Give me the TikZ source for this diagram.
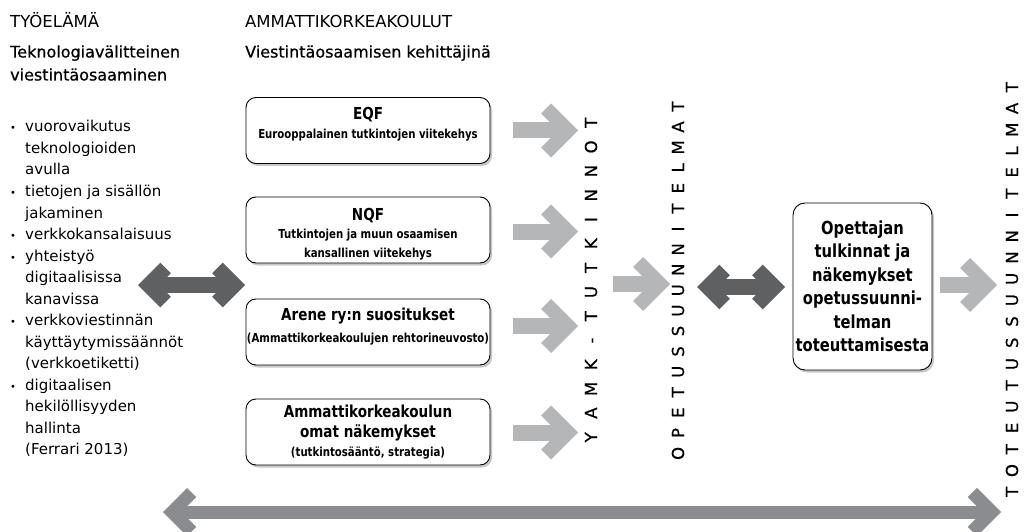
\documentclass[tikz,border=0pt]{standalone}
\usepackage{fontspec}
\setmainfont{DejaVu Sans}
\newfontfamily\medf[FakeBold=0.7]{DejaVu Sans}
\newfontfamily\boxf[FakeStretch=0.82]{DejaVu Sans}
\usetikzlibrary{calc,shadows}
\definecolor{lightarr}{HTML}{B5B6B8}
\definecolor{darkarr}{HTML}{5F6062}
\definecolor{midarr}{HTML}{8B8C8F}
\newlength\sletw
\newcommand\splet[1]{\ifx#1\relax\else\makebox[\sletw][c]{#1}\expandafter\splet\fi}
% chevron head: colour, tip coordinate, direction (1 right, -1 left), arm width, arm reach
\newcommand\chev[5]{%
  \draw[draw=#1, line width=#4pt, line join=miter, miter limit=10, line cap=butt]
    ($(#2)+({-(#3)*(0.707*#4+#5)},{-#5})$) -- ($(#2)+({-(#3)*0.707*#4},0)$) -- ($(#2)+({-(#3)*(0.707*#4+#5)},{#5})$);}
% single block arrow: colour, start, tip, shaft width, arm width, arm reach
\newcommand\larrow[6]{%
  \draw[draw=#1, line width=#4pt, line cap=butt] (#2) -- ($(#3)+({-0.707*#5},0)$);
  \chev{#1}{#3}{1}{#5}{#6}}
% double block arrow: colour, left tip, right tip, shaft width, arm width, arm reach
\newcommand\darrow[6]{%
  \draw[draw=#1, line width=#4pt, line cap=butt] ($(#2)+({0.707*#5},0)$) -- ($(#3)+({-0.707*#5},0)$);
  \chev{#1}{#2}{-1}{#5}{#6}
  \chev{#1}{#3}{1}{#5}{#6}}
\begin{document}
\begin{tikzpicture}[x=1pt,y=-1pt,
  box/.style={draw=black, line width=0.9pt, rounded corners=10pt, fill=white, inner sep=0pt,
     drop shadow={shadow xshift=2pt, shadow yshift=-2.5pt, opacity=0.22, fill=black}},
  srcbox/.style={box, minimum width=244pt, minimum height=66pt},
  boxtitle/.style={anchor=base, inner sep=0pt, font=\boxf\bfseries\fontsize{16.5}{20}\selectfont},
  boxsub/.style={anchor=base, inner sep=0pt, font=\boxf\bfseries\fontsize{12.4}{19}\selectfont},
  head/.style={anchor=base west, inner sep=0pt, font=\fontsize{16.5}{20}\selectfont},
  subhead/.style={anchor=base west, inner sep=0pt, font=\medf\fontsize{16}{22}\selectfont},
  bul/.style={anchor=base west, inner sep=0pt, font=\fontsize{15}{21.5}\selectfont},
  dot/.style={anchor=base, inner sep=0pt, font=\fontsize{10}{10}\selectfont},
  vlab/.style={rotate=90, inner sep=0pt, font=\medf\fontsize{16.5}{17}\selectfont},
]
\useasboundingbox (0,0) rectangle (1031,532);

% headings
\node[head] (tyo) at (10,28) {TYÖELÄMÄ};
\node[head] (amk) at (245,28) {AMMATTIKORKEAKOULUT};
\node[subhead] (tek1) at (10,57.5) {Teknologiavälitteinen};
\node[subhead] (tek2) at (10,80.5) {viestintäosaaminen};
\node[subhead] (vie) at (245,57.5) {Viestintäosaamisen kehittäjinä};

% bullet list
\foreach \i/\b/\t in {0/1/vuorovaikutus, 1/0/teknologioiden, 2/0/avulla, 3/1/tietojen ja sisällön, 4/0/jakaminen, 5/1/verkkokansalaisuus, 6/1/yhteistyö, 7/0/digitaalisissa, 8/0/kanavissa, 9/1/verkkoviestinnän, 10/0/käyttäytymissäännöt, 11/0/(verkkoetiketti), 12/1/digitaalisen, 13/0/hekilöllisyyden, 14/0/hallinta, 15/0/(Ferrari 2013)}{
  \node[bul] (l\i) at (25,{132+21.5*\i}) {\t};
  \ifnum\b=1 \node[dot] (bu\i) at (13,{132+21.5*\i}) {•};\fi
}

% source boxes
\node[srcbox] (eqf) at (368,130.5) {};
\node[boxtitle] (eqfT) at ($(eqf.center)+(0,-10.5)$) {EQF};
\node[boxsub] (eqfS) at ($(eqf.center)+(0,8.5)$) {Eurooppalainen tutkintojen viitekehys};

\node[srcbox] (nqf) at (368,230) {};
\node[boxtitle] (nqfT) at ($(nqf.center)+(0,-10)$) {NQF};
\node[boxsub] (nqfS1) at ($(nqf.center)+(0,8)$) {Tutkintojen ja muun osaamisen};
\node[boxsub] (nqfS2) at ($(nqf.center)+(0,27)$) {kansallinen viitekehys};

\node[srcbox] (arene) at (368,332) {};
\node[boxtitle] (areneT) at ($(arene.center)+(0,-12)$) {Arene ry:n suositukset};
\node[boxsub] (areneS) at ($(arene.center)+(0,10)$) {(Ammattikorkeakoulujen rehtorineuvosto)};

\node[srcbox] (oma) at (368,432) {};
\node[boxtitle] (omaT1) at ($(oma.center)+(0,-15)$) {Ammattikorkeakoulun};
\node[boxtitle] (omaT2) at ($(oma.center)+(0,5)$) {omat näkemykset};
\node[boxsub] (omaS) at ($(oma.center)+(0,24)$) {(tutkintosääntö, strategia)};

% teacher box
\node[box, rounded corners=12pt, minimum width=139pt, minimum height=167pt, align=center,
  font=\boxf\bfseries\fontsize{18}{23.5}\selectfont] (opet) at (862.5,286.5)
  {Opettajan\\tulkinnat ja\\näkemykset\\opetussuunni-\\telman\\toteuttamisesta};

% vertical labels
\node[vlab] (yamk) at (591,280) {\setlength\sletw{24.2pt}\splet YAMK-TUTKINNOT\relax};
\node[vlab] (ops) at (678,280) {\setlength\sletw{20.4pt}\splet OPETUSSUUNNITELMAT\relax};
\node[vlab] (tots) at (1012,289.5) {\setlength\sletw{21.3pt}\splet TOTEUTUSSUUNNITELMAT\relax};

% arrow end points
\coordinate (a1s) at (513,130.5); \coordinate (a1t) at (578,130.5);
\coordinate (a2s) at (513,231.5); \coordinate (a2t) at (578,231.5);
\coordinate (a3s) at (513,326);   \coordinate (a3t) at (578,326);
\coordinate (a4s) at (513,432.5); \coordinate (a4t) at (578,432.5);
\coordinate (a5s) at (613,284);   \coordinate (a5t) at (670,284);
\coordinate (a6s) at (940,285);   \coordinate (a6t) at (997,285);
\coordinate (d1l) at (138,285);   \coordinate (d1r) at (245,285);
\coordinate (d2l) at (697,287);   \coordinate (d2r) at (785,287);
\coordinate (bl) at (163,512);    \coordinate (br) at (1001,512);

\larrow{lightarr}{a1s}{a1t}{16}{14}{22}
\larrow{lightarr}{a2s}{a2t}{16}{14}{22}
\larrow{lightarr}{a3s}{a3t}{16}{14}{22}
\larrow{lightarr}{a4s}{a4t}{16}{14}{22}
\larrow{lightarr}{a5s}{a5t}{16}{14}{22}
\larrow{lightarr}{a6s}{a6t}{16}{14}{22}
\darrow{darkarr}{d1l}{d1r}{16}{15}{17}
\darrow{darkarr}{d2l}{d2r}{16}{15}{17}
\darrow{midarr}{bl}{br}{13}{13}{19.5}
\end{tikzpicture}
\end{document}
